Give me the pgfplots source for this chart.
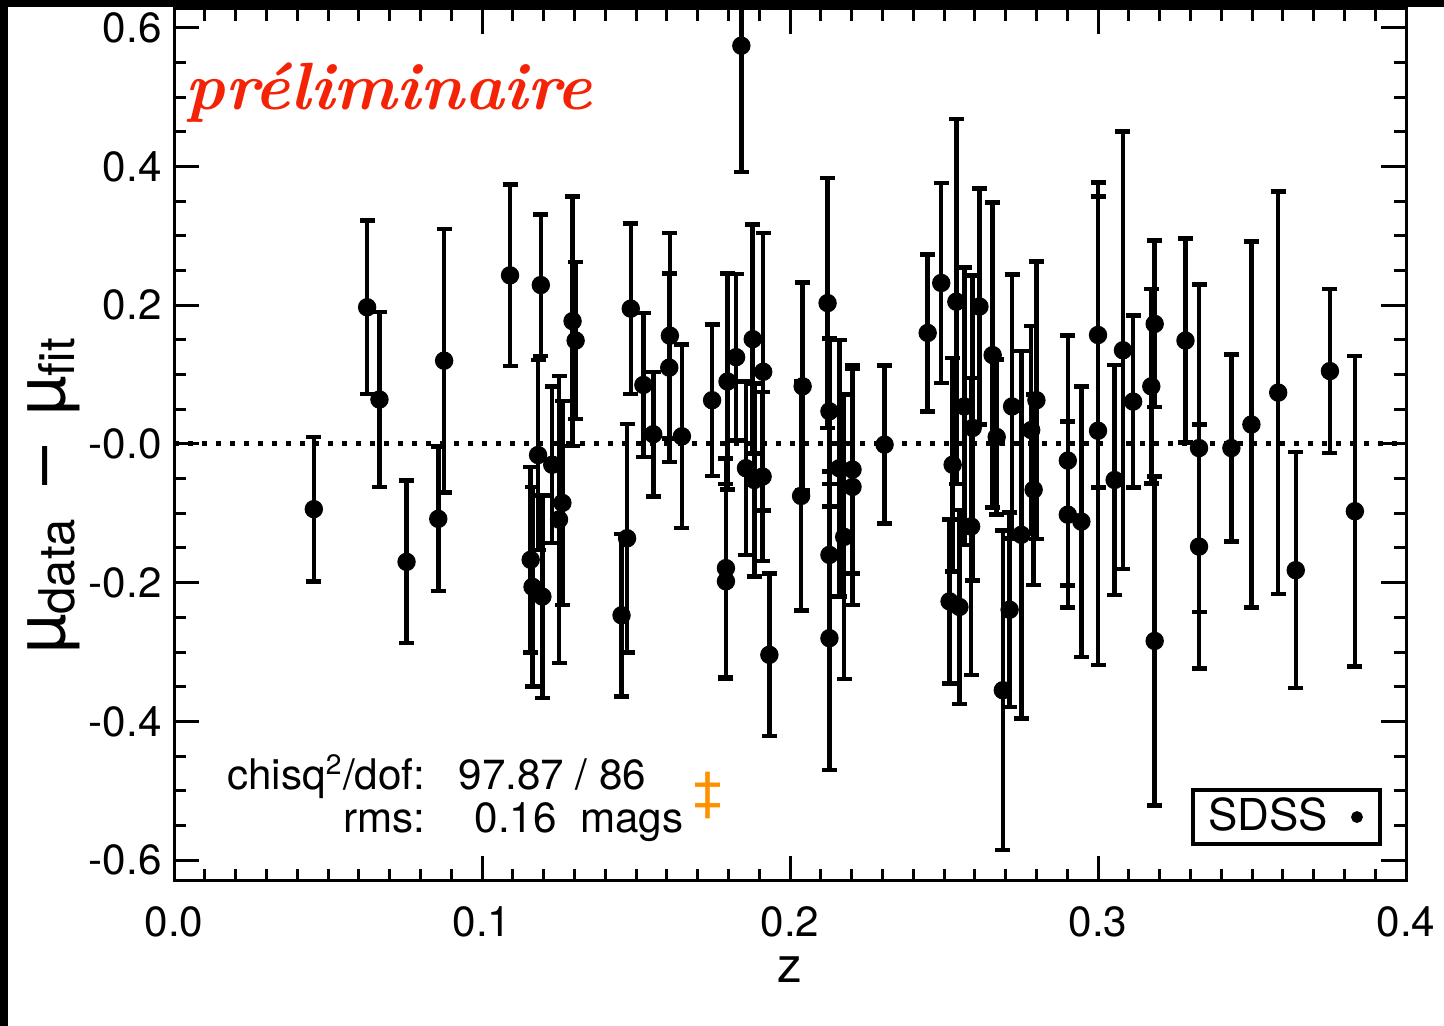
\documentclass[border=0pt]{standalone}
\usepackage{fontspec}
\setmainfont{TeX Gyre Heros}
\newfontfamily\lmr{Latin Modern Roman}
\usepackage{pgfplots}
\pgfplotsset{compat=1.18}
\usepackage{pgfplotstable}
\definecolor{prelim}{RGB}{245,35,5}
\definecolor{dagc}{RGB}{255,145,0}

\pgfplotstableread{
x y e
0.0454 -0.094 0.104
0.0627 0.197 0.125
0.0667 0.064 0.126
0.0755 -0.170 0.117
0.0858 -0.108 0.104
0.0877 0.120 0.190
0.1091 0.243 0.131
0.1158 -0.167 0.134
0.1164 -0.206 0.144
0.1182 -0.016 0.137
0.1191 0.229 0.102
0.1196 -0.220 0.146
0.1228 -0.030 0.113
0.1250 -0.109 0.207
0.1261 -0.085 0.147
0.1294 0.177 0.180
0.1304 0.149 0.113
0.1453 -0.247 0.117
0.1471 -0.136 0.165
0.1483 0.195 0.123
0.1524 0.085 0.104
0.1556 0.014 0.090
0.1608 0.110 0.136
0.1610 0.156 0.148
0.1649 0.011 0.132
0.1747 0.063 0.109
0.1792 -0.179 0.158
0.1792 -0.198 0.140
0.1797 0.090 0.156
0.1825 0.125 0.120
0.1842 0.574 0.182
0.1857 -0.035 0.125
0.1879 0.151 0.165
0.1884 -0.052 0.139
0.1911 -0.047 0.122
0.1913 0.104 0.200
0.1933 -0.304 0.117
0.2036 -0.075 0.165
0.2041 0.083 0.150
0.2122 0.203 0.180
0.2128 0.047 0.105
0.2128 -0.160 0.120
0.2128 -0.280 0.190
0.2160 -0.035 0.185
0.2176 -0.134 0.205
0.2203 -0.037 0.150
0.2203 -0.062 0.170
0.2307 -0.001 0.114
0.2447 0.160 0.113
0.2491 0.232 0.144
0.2518 -0.227 0.118
0.2528 -0.030 0.154
0.2540 0.205 0.263
0.2550 -0.235 0.140
0.2566 0.054 0.200
0.2588 -0.119 0.214
0.2593 0.023 0.220
0.2615 0.198 0.170
0.2658 0.128 0.220
0.2671 0.010 0.112
0.2691 -0.355 0.230
0.2713 -0.239 0.140
0.2721 0.054 0.190
0.2751 -0.131 0.265
0.2783 0.020 0.150
0.2791 -0.066 0.137
0.2800 0.063 0.200
0.2902 -0.024 0.180
0.2902 -0.102 0.134
0.2946 -0.112 0.195
0.3000 0.157 0.220
0.3000 0.019 0.338
0.3054 -0.052 0.166
0.3081 0.135 0.315
0.3114 0.061 0.124
0.3173 0.083 0.140
0.3184 0.173 0.120
0.3184 -0.284 0.237
0.3284 0.149 0.147
0.3328 -0.006 0.236
0.3328 -0.148 0.176
0.3433 -0.006 0.135
0.3498 0.028 0.264
0.3585 0.074 0.290
0.3642 -0.182 0.170
0.3753 0.105 0.118
0.3834 -0.097 0.224
}\sdss

\begin{document}
\begin{tikzpicture}
\fill[black] (0,0) rectangle (144.4mm,102.6mm);
\fill[white] (0.8mm,0) rectangle (144.4mm,101.85mm);
\useasboundingbox (0,0) rectangle (144.4mm,102.6mm);
\begin{axis}[
  at={(17.4mm,14.5mm)}, anchor=south west,
  scale only axis, width=123.2mm, height=87.2mm,
  xmin=0, xmax=0.4, ymin=-0.630, ymax=0.627,
  xtick={0,0.1,0.2,0.3,0.4}, xticklabels={0.0,0.1,0.2,0.3,0.4},
  ytick={-0.6,-0.4,-0.2,0,0.2,0.4,0.6},
  yticklabels={-0.6,-0.4,-0.2,-0.0,0.2,0.4,0.6},
  minor x tick num=9, minor y tick num=3,
  tick align=inside, major tick length=2.5mm, minor tick length=1.2mm,
  axis line style={line width=0.3mm},
  every tick/.style={black, line width=0.3mm},
  /pgf/number format/assume math mode=true,
  ticklabel style={font=\fontsize{12}{14}\selectfont},
  xticklabel style={yshift=-1.3mm},
  legend plot pos=right,
  legend image code/.code={\fill[black] (0.2cm,0) circle (0.38mm); \path (0,0) (0.33cm,0);},
  legend style={at={(rel axis cs:0.9805,0.040)}, anchor=south east,
    draw=black, line width=0.4mm, font=\fontsize{12.5}{14}\selectfont,
    inner xsep=0.8mm, inner ysep=0.1mm},
]
\addplot[black, line width=0.5mm, dash pattern=on 0.45mm off 0.95mm, forget plot]
  coordinates {(0,0) (0.4,0)};
\addplot[only marks, mark=*, mark size=0.85mm, black,
  error bars/.cd, y dir=both, y explicit,
  error bar style={line width=0.45mm, black},
  error mark options={rotate=90, line width=0.45mm, mark size=0.75mm, black}]
  table[x=x, y=y, y error=e] {\sdss};
\addlegendentry{SDSS}
\end{axis}
% labels
\node[rotate=90, anchor=base, font=\fontsize{20}{24}\selectfont] at (6.4mm,53.1mm)
  {\symbol{"00B5}\textsubscript{\fontsize{14}{16}\selectfont data} \,–\, \symbol{"00B5}\textsubscript{\fontsize{14}{16}\selectfont fit}};
\node[anchor=base, font=\fontsize{14}{16}\selectfont] at (79.0mm,4.3mm) {z};
\node[anchor=base west, text=prelim, font=\lmr\bfseries\itshape\fontsize{19}{22}\selectfont, inner sep=0] at (18.5mm,91.6mm) {préliminaire};
\node[anchor=base east, font=\fontsize{12}{14}\selectfont, inner sep=0] at (42.6mm,23.6mm) {chisq\textsuperscript{2}/dof:};
\node[anchor=base west, font=\fontsize{12}{14}\selectfont, inner sep=0] at (45.8mm,23.6mm) {97.87 / 86};
\node[anchor=base east, font=\fontsize{12}{14}\selectfont, inner sep=0] at (42.6mm,19.3mm) {rms:};
\node[anchor=base west, font=\fontsize{12}{14}\selectfont, inner sep=0] at (47.4mm,19.3mm) {0.16\ \ mags};
\node[text=dagc, font=\fontsize{15}{18}\selectfont, inner sep=0] at (70.8mm,23.1mm) {\textdaggerdbl};
\end{tikzpicture}
\end{document}
